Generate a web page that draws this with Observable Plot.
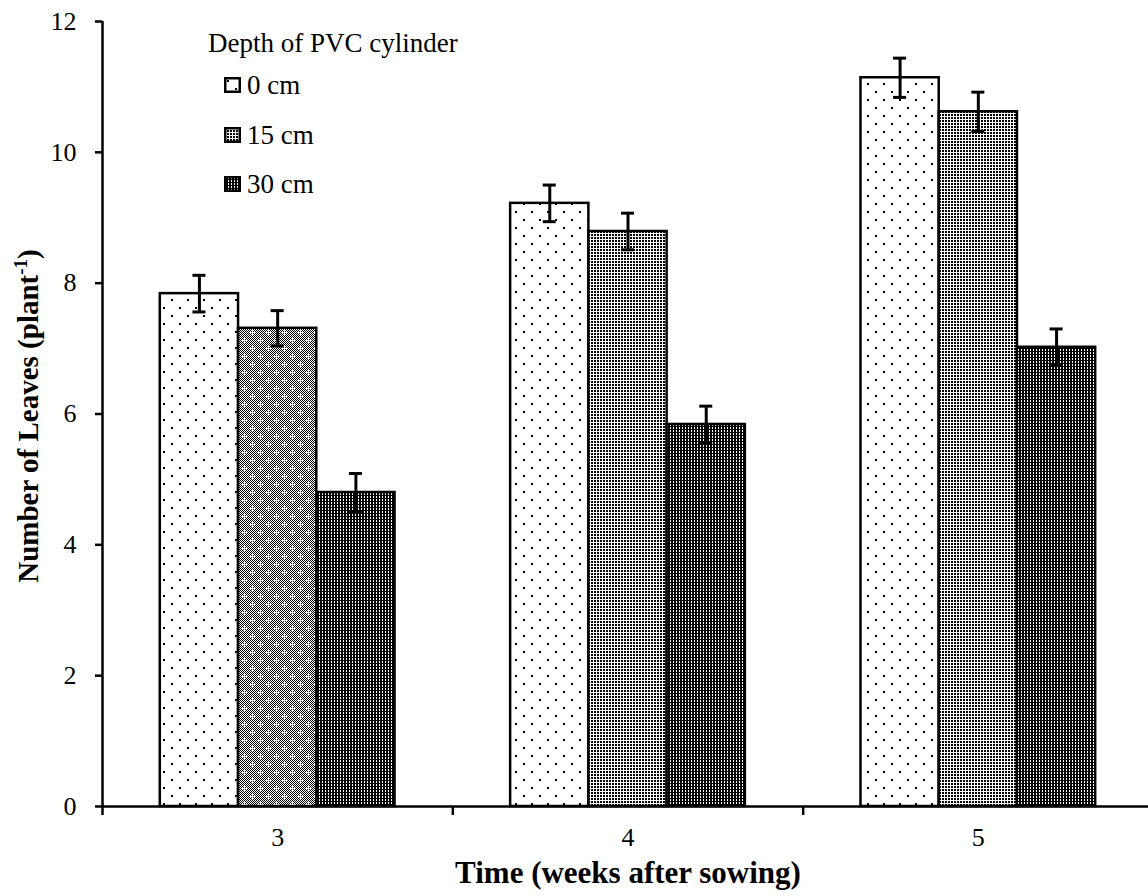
<!DOCTYPE html>
<html>
<head>
<meta charset="utf-8">
<script src="https://cdn.jsdelivr.net/npm/d3@7"></script>
<script src="https://cdn.jsdelivr.net/npm/@observablehq/plot@0.6"></script>
<style>
  html, body { margin: 0; padding: 0; background: #fff; overflow: hidden; }
  #wrap { position: relative; width: 1148px; height: 896px; }
  #legend { position: absolute; left: 0; top: 0; font-family: "Liberation Serif", serif; font-size: 27px; color: #000; }
  #legend .title { position: absolute; left: 208px; top: 28px; white-space: nowrap; line-height: 30px; }
  #legend .row { position: absolute; left: 224px; white-space: nowrap; line-height: 30px; display: flex; align-items: center; }
  #legend .row svg { margin-right: 6px; }
</style>
</head>
<body>
<svg width="0" height="0" style="position:absolute">
  <defs>
    <pattern id="pDots" width="16" height="16" patternUnits="userSpaceOnUse">
      <rect width="16" height="16" fill="#fff"/>
      <rect x="3" y="3" width="2" height="2" fill="#000"/>
      <rect x="11" y="11" width="2" height="2" fill="#000"/>
    </pattern>
    <pattern id="p15" width="3" height="3" patternUnits="userSpaceOnUse">
      <rect width="3" height="3" fill="#fff"/>
      <rect x="0" y="0" width="2" height="2" fill="#000"/>
    </pattern>
    <pattern id="p30" width="3" height="3" patternUnits="userSpaceOnUse">
      <rect width="3" height="3" fill="#000"/>
      <rect x="1" y="1" width="1" height="2" fill="#fff"/>
    </pattern>
    <pattern id="pChk2" width="2" height="2" patternUnits="userSpaceOnUse">
      <rect width="2" height="2" fill="#fff"/>
      <rect x="0" y="0" width="1" height="1" fill="#000"/>
      <rect x="1" y="1" width="1" height="1" fill="#000"/>
    </pattern>
    <pattern id="pChk" width="16" height="16" patternUnits="userSpaceOnUse">
      <rect width="16" height="16" fill="url(#pChk2)"/>
      <rect x="2" y="4" width="5" height="1" fill="#fff"/>
      <rect x="4" y="2" width="1" height="5" fill="#fff"/>
      <rect x="10" y="12" width="5" height="1" fill="#fff"/>
      <rect x="12" y="10" width="1" height="5" fill="#fff"/>
    </pattern>
  </defs>
</svg>
<div id="wrap">
  <div id="chart"></div>
  <div id="legend"></div>
</div>
<script>
// ---- data ----
const weeks = ["3", "4", "5"];
const depths = ["0 cm", "15 cm", "30 cm"];
const leaves0cm  = [7.84, 9.22, 11.14];
const leaves15cm = [7.31, 8.79, 10.62];
const leaves30cm = [4.80, 5.84, 7.02];
const err0cm  = [0.28, 0.28, 0.30];
const err15cm = [0.27, 0.28, 0.30];
const err30cm = [0.29, 0.28, 0.28];
const yTicks = [0, 2, 4, 6, 8, 10, 12];
const legendTitle = "Depth of PVC cylinder";
const xTitle = "Time (weeks after sowing)";
const yTitle = "Number of Leaves (plant";
const yTitleSup = "-1";

// ---- table built from the arrays ----
const series = [leaves0cm, leaves15cm, leaves30cm];
const errs = [err0cm, err15cm, err30cm];
const rows = weeks.flatMap((w, i) => depths.map((d, j) => ({
  week: w, wi: i, depth: d, dj: j, value: series[j][i], err: errs[j][i]
})));

const groupPad = 0.165;
const barW = (1 - 2 * groupPad) / depths.length;
const x1 = d => d.wi + groupPad + d.dj * barW;
const x2 = d => x1(d) + barW;
const xc = d => x1(d) + barW / 2;
const patterns = ["url(#pDots)", "url(#p15)", "url(#p30)"];
const fillOf = d => (d.week === "3" && d.depth === "15 cm") ? "url(#pChk)" : patterns[d.dj];

const font = "Liberation Serif";

const chart = Plot.plot({
  width: 1148,
  height: 896,
  marginLeft: 102,
  marginRight: -5,
  marginTop: 21,
  marginBottom: 90,
  style: { fontFamily: font, background: "transparent", color: "#000" },
  x: { type: "linear", domain: [0, weeks.length], axis: null },
  y: { domain: [0, 12], axis: null },
  color: { type: "identity" },
  marks: [
    Plot.rectY(rows, { x1, x2, y1: 0, y2: "value", fill: fillOf, stroke: "#000", strokeWidth: 2.5 }),
    Plot.ruleX(rows, { x: xc, y1: d => d.value - d.err, y2: d => d.value + d.err, stroke: "#000", strokeWidth: 3 }),
    Plot.ruleY(rows, { x1: xc, x2: xc, y: d => d.value + d.err, insetLeft: -6.5, insetRight: -6.5, stroke: "#000", strokeWidth: 3 }),
    Plot.ruleY(rows, { x1: xc, x2: xc, y: d => d.value - d.err, insetLeft: -6.5, insetRight: -6.5, stroke: "#000", strokeWidth: 3 }),
    Plot.ruleX([0], { stroke: "#000", strokeWidth: 2.5 }),
    Plot.ruleY([0], { stroke: "#000", strokeWidth: 2.5 }),
    Plot.axisY({ ticks: yTicks, tickSize: 7, tickPadding: 19, fontSize: 26, strokeWidth: 2.5, tickFormat: d => String(d), label: null }),
    Plot.axisX({ ticks: d3.range(weeks.length + 1), tickSize: 9, tickFormat: () => "", strokeWidth: 2.5, label: null }),
    Plot.axisX({ ticks: weeks.map((w, i) => i + 0.5), tickSize: 0, tickPadding: 21, fontSize: 26, tickFormat: v => weeks[Math.floor(v)], label: null }),
    Plot.text([xTitle], { text: d => d, frameAnchor: "bottom", dy: 76, fontSize: 31, fontWeight: "bold", fill: "#000" })
  ]
});
document.getElementById("chart").appendChild(chart);

// y-axis title with superscript
const yt = d3.select(chart).append("text")
  .attr("transform", "translate(38,416) rotate(-90)")
  .attr("text-anchor", "middle")
  .attr("font-family", font)
  .attr("font-weight", "bold")
  .attr("font-size", 29)
  .attr("fill", "#000");
yt.append("tspan").text(yTitle);
yt.append("tspan").attr("dy", -11).attr("font-size", 19).text(yTitleSup);
yt.append("tspan").attr("dy", 11).text(")");

// legend
const legend = d3.select("#legend");
legend.append("div").attr("class", "title").text(legendTitle);
const rowTops = [70, 120, 169];
depths.forEach((d, j) => {
  const r = legend.append("div").attr("class", "row").style("top", rowTops[j] + "px");
  const s = r.append("svg").attr("width", 17).attr("height", 16);
  s.append("rect").attr("x", 1.25).attr("y", 1.25).attr("width", 14.5).attr("height", 13.5)
    .attr("fill", patterns[j]).attr("stroke", "#000").attr("stroke-width", 2.5);
  r.append("span").text(d);
});
</script>
</body>
</html>
